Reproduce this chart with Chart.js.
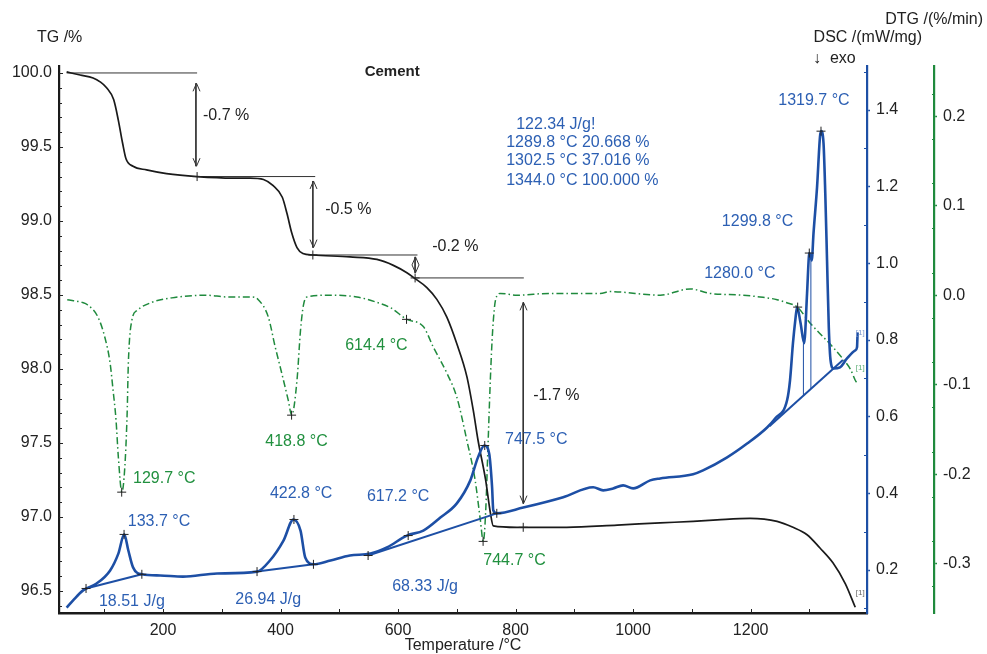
<!DOCTYPE html>
<html><head><meta charset="utf-8">
<script src="https://cdn.jsdelivr.net/npm/chart.js@4.4.1/dist/chart.umd.min.js"></script>
<style>html,body{margin:0;padding:0;background:#fff}#wrap{width:987px;height:654px;position:relative}</style>
</head><body><div id="wrap"><canvas id="c" width="987" height="654"></canvas></div>
<script>
// ---------- data ----------
const temperatureTicks = [200, 400, 600, 800, 1000, 1200];
const tgTicks = [96.5, 97.0, 97.5, 98.0, 98.5, 99.0, 99.5, 100.0];
const dscTicks = [0.2, 0.4, 0.6, 0.8, 1.0, 1.2, 1.4];
const dtgTicks = [-0.3, -0.2, -0.1, 0.0, 0.1, 0.2];

const tgTemp = [36,59,81,93,104,116,124,131,137,149,172,206,258,319,348,371,387,403,411,419,428,438,455,518,564,592,615,629,649,666,683,700,717,728,736,749,757,762,802,887,973,1046,1102,1143,1199,1245,1272,1296,1318,1340,1361,1378];
const tgValues = [100.007,99.986,99.966,99.94,99.90,99.82,99.68,99.53,99.42,99.37,99.345,99.32,99.30,99.29,99.29,99.28,99.24,99.16,99.05,98.92,98.82,98.78,98.77,98.757,98.74,98.70,98.65,98.61,98.55,98.47,98.35,98.17,97.95,97.72,97.52,97.25,97.03,96.94,96.93,96.93,96.945,96.96,96.97,96.98,96.99,96.97,96.93,96.88,96.79,96.69,96.55,96.39];

const dscTemp = [36,47,64,87,110,124,134,141,149,164,195,234,292,360,382,405,422,434,442,456,485,518,553,581,615,643,672,700,723,736,747,755,760,762,768,813,881,932,949,966,983,1000,1029,1046,1102,1119,1160,1194,1228,1242,1262,1267,1272,1276,1279,1285,1291,1296,1299,1300,1304,1307,1313,1318,1320,1324,1327,1330,1333,1336,1341,1352,1364,1378,1381,1382];
const dscValues = [0.102,0.121,0.147,0.165,0.199,0.243,0.293,0.251,0.207,0.189,0.186,0.183,0.191,0.196,0.225,0.277,0.332,0.303,0.233,0.215,0.225,0.238,0.243,0.259,0.290,0.303,0.337,0.374,0.434,0.494,0.525,0.504,0.416,0.356,0.348,0.363,0.390,0.416,0.408,0.413,0.421,0.413,0.434,0.439,0.450,0.460,0.494,0.530,0.572,0.596,0.643,0.695,0.792,0.852,0.886,0.844,0.792,0.922,1.016,1.027,1.008,1.079,1.199,1.330,1.345,1.314,1.183,1.008,0.833,0.747,0.726,0.729,0.752,0.773,0.781,0.820];

const dtgTemp = [37,62,72,89,101,110,115,120,124,130,135,139,141,147,156,181,215,272,311,351,362,379,391,402,413,419,428,434,439,445,484,530,564,587,615,643,660,683,700,717,731,740,745,749,753,757,761,766,774,802,859,944,961,1046,1097,1131,1187,1216,1245,1264,1279,1301,1324,1340,1358,1370,1378,1381];
const dtgValues = [-0.005,-0.008,-0.011,-0.024,-0.047,-0.076,-0.106,-0.139,-0.181,-0.220,-0.192,-0.131,-0.076,-0.028,-0.017,-0.008,-0.003,0.000,-0.002,-0.002,-0.005,-0.024,-0.058,-0.087,-0.117,-0.134,-0.095,-0.039,-0.011,-0.002,0.000,-0.002,-0.008,-0.014,-0.027,-0.035,-0.058,-0.087,-0.114,-0.162,-0.206,-0.251,-0.275,-0.243,-0.169,-0.095,-0.039,-0.005,0.002,0.000,0.002,0.002,0.004,0.000,0.007,0.002,0.000,-0.002,-0.005,-0.009,-0.013,-0.031,-0.047,-0.058,-0.072,-0.083,-0.095,-0.098];

// DSC integration baselines [T1, v1, T2, v2]
const dscBaselines = [[69,0.152,164,0.189],[360,0.196,456,0.215],[549,0.238,768,0.348],[1232,0.575,1357,0.748]];
// partial-area separators [T, baseline value, curve value]
const dscSeparators = [[1289.8,0.655,0.792],[1302.5,0.673,1.008]];

// TG step evaluation: reference levels [T1, T2, TG]
const tgLevels = [[36,258,100.0],[258,459,99.30],[455,633,98.77],[629,814,98.615]];
// step arrows [T, TG top, TG bottom]
const tgArrows = [[256,99.93,99.37],[455,99.27,98.82],[629,98.757,98.649],[813,98.45,97.09]];
const tgStepLabels = ['-0.7 %','-0.5 %','-0.2 %','-1.7 %'];
const tgStepAnchors = [[268,99.71],[476,99.08],[658,98.83],[830,97.82]];

// peak / evaluation markers
const tgMarkT = [258,455,629,813];
const tgMarkV = [99.30,98.77,98.615,96.93];
const dscMarkT = [69,133.7,164,360,422.8,456,549,617.2,747.5,768,1280,1299.8,1319.7];
const dscMarkV = [0.152,0.293,0.189,0.196,0.332,0.215,0.238,0.290,0.525,0.348,0.886,1.027,1.345];
const dtgMarkT = [129.7,418.8,614.4,744.7];
const dtgMarkV = [-0.220,-0.134,-0.027,-0.275];

// texts
const dscPeakLabels = ['133.7 °C','422.8 °C','617.2 °C','747.5 °C','1280.0 °C','1299.8 °C','1319.7 °C'];
const dscPeakAnchors = [[140,0.327],[382,0.400],[547,0.392],[782,0.541],[1121,0.974],[1151,1.110],[1247,1.426]];
const dscAreaLabels = ['18.51 J/g','26.94 J/g','68.33 J/g'];
const dscAreaAnchors = [[91,0.118],[323,0.123],[590,0.157]];
const dtgPeakLabels = ['129.7 °C','418.8 °C','614.4 °C','744.7 °C'];
const dtgPeakAnchors = [[149,-0.205],[374,-0.163],[510,-0.056],[745,-0.296]];
const peakSepLabels = ['122.34 J/g!','1289.8 °C 20.668 %','1302.5 °C 37.016 %','1344.0 °C 100.000 %'];
const peakSepAnchors = [[801,1.363],[784,1.316],[784,1.267],[784,1.217]];

// ---------- styles ----------
const FONT = '"Liberation Sans", Arial, sans-serif';
const BLUE = '#1d4fa5', BLUE_TXT = '#2c5fb3', GREEN = '#1f8a3d', GREEN_TXT = '#21903f', BLACK = '#1a1a1a';

const pts = (xs, ys) => xs.map((x, i) => ({x, y: ys[i]}));

const datasets = [];
datasets.push({data: pts(tgMarkT, tgMarkV), yAxisID: 'yTG', showLine: false, pointStyle: 'cross', pointRadius: 4.5, pointBorderColor: '#222', pointBorderWidth: 1});
datasets.push({data: pts(dscMarkT, dscMarkV), yAxisID: 'yDSC', showLine: false, pointStyle: 'cross', pointRadius: 4.5, pointBorderColor: '#222', pointBorderWidth: 1});
datasets.push({data: pts(dtgMarkT, dtgMarkV), yAxisID: 'yDTG', showLine: false, pointStyle: 'cross', pointRadius: 4.5, pointBorderColor: '#222', pointBorderWidth: 1});
datasets.push({data: pts(dscTemp, dscValues), yAxisID: 'yDSC', borderColor: BLUE, borderWidth: 2.6, cubicInterpolationMode: 'monotone'});
dscBaselines.forEach(b => datasets.push({data: [{x:b[0],y:b[1]},{x:b[2],y:b[3]}], yAxisID: 'yDSC', borderColor: BLUE, borderWidth: 2}));
dscSeparators.forEach(s => datasets.push({data: [{x:s[0],y:s[1]},{x:s[0],y:s[2]}], yAxisID: 'yDSC', borderColor: BLUE, borderWidth: 1}));
datasets.push({data: pts(tgTemp, tgValues), yAxisID: 'yTG', borderColor: BLACK, borderWidth: 1.7, cubicInterpolationMode: 'monotone'});
tgLevels.forEach(l => datasets.push({data: [{x:l[0],y:l[2]},{x:l[1],y:l[2]}], yAxisID: 'yTG', borderColor: '#333', borderWidth: 1}));
tgArrows.forEach(a => datasets.push({data: [{x:a[0],y:a[1]},{x:a[0],y:a[2]}], yAxisID: 'yTG', borderColor: '#333', borderWidth: 1}));
datasets.push({data: pts(dtgTemp, dtgValues), yAxisID: 'yDTG', borderColor: GREEN, borderWidth: 1.5, borderDash: [7,3,1.5,3], cubicInterpolationMode: 'monotone'});

const fixTicks = vals => scale => { scale.ticks = vals.map(v => ({value: v})); };

const overlay = {
  id: 'overlay',
  afterDraw(chart) {
    const {ctx, scales} = chart;
    const X = scales.x, T = scales.yTG, D = scales.yDSC, G = scales.yDTG;
    ctx.save();
    ctx.lineWidth = 1;
    const hline = (x1, x2, y, c) => { ctx.strokeStyle = c; ctx.beginPath(); const yy = Math.round(y) + 0.5; ctx.moveTo(x1, yy); ctx.lineTo(x2, yy); ctx.stroke(); };
    const vline = (x, y1, y2, c) => { ctx.strokeStyle = c; ctx.beginPath(); const xx = Math.round(x) + 0.5; ctx.moveTo(xx, y1); ctx.lineTo(xx, y2); ctx.stroke(); };
    // inner minor ticks
    for (let i = 964; i <= 1000; i++) { const y = T.getPixelForValue(i / 10); hline(T.right, T.right + (i % 5 === 0 ? 4 : 3), y, '#222'); }
    for (let i = 1; i <= 13; i++) { const x = X.getPixelForValue(i * 100); vline(x, X.top - 4, X.top, '#222'); }
    for (let i = 1; i <= 15; i++) { if (i % 2 === 1) { const y = D.getPixelForValue(i / 10); hline(D.left - 3, D.left, y, BLUE); } }
    for (let i = -14; i <= 10; i++) { if (i % 2 !== 0) { const y = G.getPixelForValue(i / 40); hline(G.left - 2, G.left, y, GREEN); } }
    // arrowheads
    ctx.strokeStyle = '#333';
    const head = (x, y, dir) => { ctx.beginPath(); ctx.moveTo(x - 3.5, y - dir * 8); ctx.lineTo(x, y); ctx.lineTo(x + 3.5, y - dir * 8); ctx.stroke(); };
    tgArrows.forEach(a => { const x = Math.round(X.getPixelForValue(a[0])) + 0.5; head(x, T.getPixelForValue(a[1]), -1); head(x, T.getPixelForValue(a[2]), 1); });
    // texts
    ctx.textBaseline = 'middle';
    ctx.textAlign = 'left';
    ctx.font = '16px ' + FONT;
    const put = (txt, x, y, c) => { ctx.fillStyle = c; ctx.fillText(txt, x, y); };
    tgStepLabels.forEach((t, i) => put(t, X.getPixelForValue(tgStepAnchors[i][0]), T.getPixelForValue(tgStepAnchors[i][1]), '#222'));
    dscPeakLabels.forEach((t, i) => put(t, X.getPixelForValue(dscPeakAnchors[i][0]), D.getPixelForValue(dscPeakAnchors[i][1]), BLUE_TXT));
    dscAreaLabels.forEach((t, i) => put(t, X.getPixelForValue(dscAreaAnchors[i][0]), D.getPixelForValue(dscAreaAnchors[i][1]), BLUE_TXT));
    peakSepLabels.forEach((t, i) => put(t, X.getPixelForValue(peakSepAnchors[i][0]), D.getPixelForValue(peakSepAnchors[i][1]), BLUE_TXT));
    dtgPeakLabels.forEach((t, i) => put(t, X.getPixelForValue(dtgPeakAnchors[i][0]), G.getPixelForValue(dtgPeakAnchors[i][1]), GREEN_TXT));
    // axis headers
    const area = chart.chartArea;
    put('TG /%', 37, area.top - 28, '#222');
    ctx.textAlign = 'right';
    put('DSC /(mW/mg)', D.right - 12, area.top - 28, '#222');
    put('DTG /(%/min)', G.right - 4, area.top - 46, '#222');
    ctx.textAlign = 'left';
    put('\u2193  exo', D.left - 54, area.top - 7, '#222');
    // sample name
    ctx.textAlign = 'center';
    ctx.font = 'bold 15px ' + FONT;
    put('Cement', X.getPixelForValue(590), T.getPixelForValue(100.007), '#222');
    // curve end markers
    ctx.textAlign = 'left';
    ctx.font = '8px ' + FONT;
    put('[1]', X.getPixelForValue(1379), D.getPixelForValue(0.818), '#7d99cf');
    put('[1]', X.getPixelForValue(1379), G.getPixelForValue(-0.081), '#5aad73');
    put('[1]', X.getPixelForValue(1379), T.getPixelForValue(96.49), '#666');
    ctx.restore();
  }
};

new Chart(document.getElementById('c'), {
  type: 'line',
  data: {datasets},
  plugins: [overlay],
  options: {
    responsive: false, animation: false, devicePixelRatio: 1,
    layout: {padding: {top: 66, left: 0, right: 0, bottom: 0}},
    elements: {point: {radius: 0}, line: {fill: false}},
    plugins: {legend: {display: false}, tooltip: {enabled: false}},
    font: {family: FONT},
    scales: {
      x: {
        type: 'linear', position: 'bottom', min: 23, max: 1398,
        afterBuildTicks: fixTicks(temperatureTicks),
        afterFit: s => { s.height = 41; },
        grid: {drawOnChartArea: false, drawTicks: false},
        border: {display: true, color: '#1a1a1a', width: 2.5},
        ticks: {padding: 8, color: '#222', font: {family: FONT, size: 16}, callback: v => String(v)},
        title: {display: true, text: 'Temperature /°C', color: '#222', font: {family: FONT, size: 16}, padding: {top: 0, bottom: -1.5}}
      },
      yTG: {
        position: 'left', min: 96.351, max: 100.047,
        afterBuildTicks: fixTicks(tgTicks),
        afterFit: s => { s.width = 59; },
        grid: {drawOnChartArea: false, drawTicks: false},
        border: {display: true, color: '#1a1a1a', width: 2.2},
        ticks: {padding: 7, color: '#222', font: {family: FONT, size: 16}, callback: v => Number(v).toFixed(1)}
      },
      yDSC: {
        position: 'right', weight: 0, min: 0.088, max: 1.515,
        afterBuildTicks: fixTicks(dscTicks),
        afterFit: s => { s.width = 67; },
        grid: {drawOnChartArea: false, drawTicks: true, tickLength: 3, color: BLUE, tickWidth: 1.5},
        border: {display: true, color: BLUE, width: 2.2},
        ticks: {padding: 6, color: '#222', font: {family: FONT, size: 16}, callback: v => Number(v).toFixed(1)}
      },
      yDTG: {
        position: 'right', weight: 1, min: -0.355, max: 0.256,
        afterBuildTicks: fixTicks(dtgTicks),
        afterFit: s => { s.width = 53; },
        grid: {drawOnChartArea: false, drawTicks: true, tickLength: 3, color: GREEN, tickWidth: 1.5},
        border: {display: true, color: GREEN, width: 2.2},
        ticks: {padding: 6, color: '#222', font: {family: FONT, size: 16}, callback: v => Number(v).toFixed(1)}
      }
    }
  }
});
</script>
</body></html>
